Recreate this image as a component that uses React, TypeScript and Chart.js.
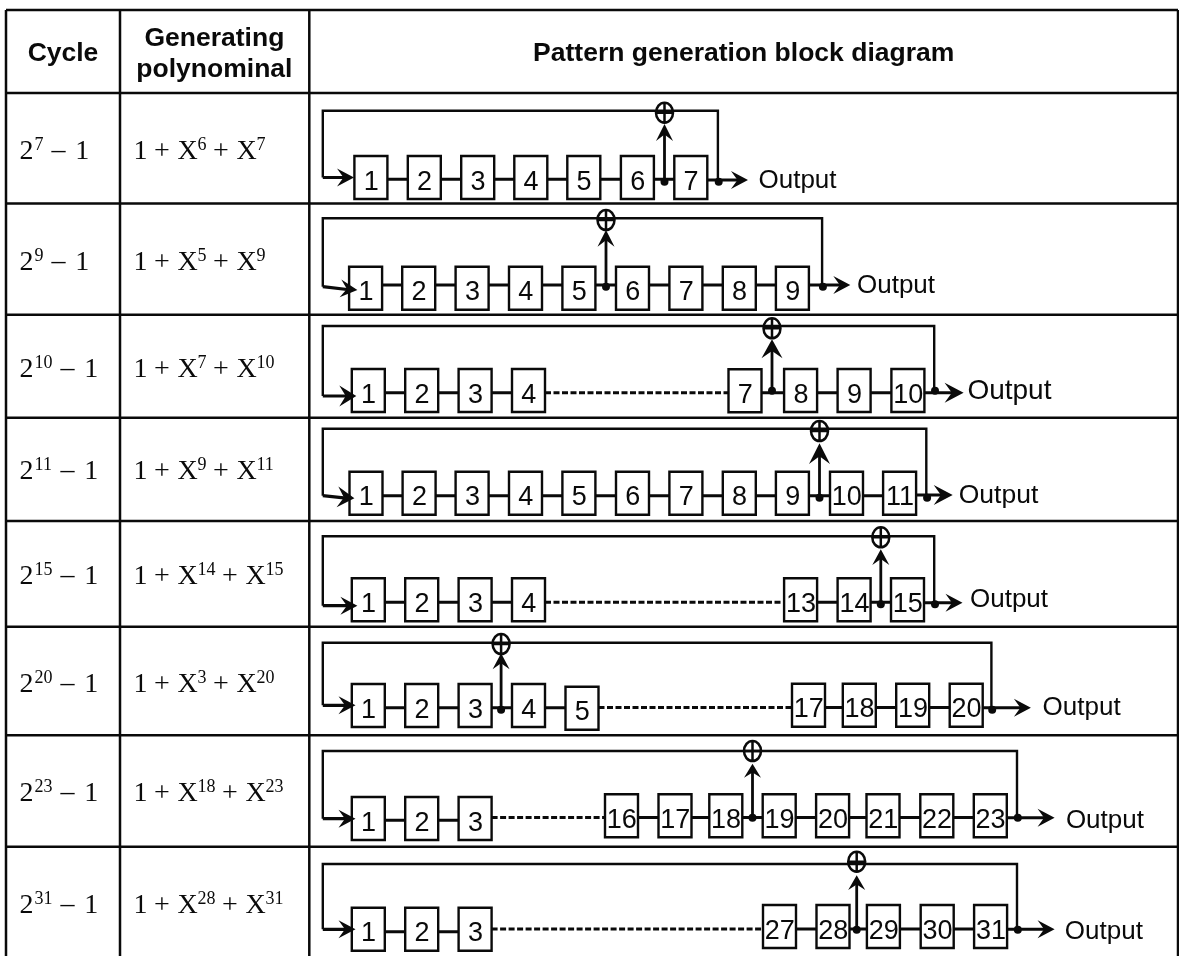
import React, { useEffect, useRef } from "react";
import { Chart, registerables } from "chart.js";

Chart.register(...registerables);

const CANVAS_W = 1179;
const CANVAS_H = 956;

// Table grid
const tableColumns = [6, 120, 309.3, 1178];
const tableRows = [10, 93, 203.5, 314.7, 417.7, 521, 626.7, 735.3, 846.7];

// Header
const headerCycle = "Cycle";
const headerPolyLines = ["Generating", "polynominal"];
const headerDiagram = "Pattern generation block diagram";

// Row text
const cycleExponents = ["7", "9", "10", "11", "15", "20", "23", "31"];
const tapExponents = ["6", "5", "7", "9", "14", "3", "18", "28"];
const mathBaselines = [159.3, 270, 377.3, 479.3, 584, 691.7, 801, 913.3];

// Registers
const registerLabels = [
  ["1", "2", "3", "4", "5", "6", "7"],
  ["1", "2", "3", "4", "5", "6", "7", "8", "9"],
  ["1", "2", "3", "4", "7", "8", "9", "10"],
  ["1", "2", "3", "4", "5", "6", "7", "8", "9", "10", "11"],
  ["1", "2", "3", "4", "13", "14", "15"],
  ["1", "2", "3", "4", "5", "17", "18", "19", "20"],
  ["1", "2", "3", "16", "17", "18", "19", "20", "21", "22", "23"],
  ["1", "2", "3", "27", "28", "29", "30", "31"],
];
const registerLeft = [
  [354.4, 407.8, 461.2, 514.3, 567.3, 620.9, 674.3],
  [349.1, 402.2, 455.6, 509, 562.4, 616, 669.4, 722.8, 775.9],
  [351.8, 405.2, 458.6, 512, 728.5, 784.1, 837.6, 891.4],
  [349.5, 402.6, 455.6, 509, 562.4, 616, 669.4, 722.8, 775.9, 830, 883.1],
  [351.8, 405.2, 458.6, 512, 784.1, 837.6, 891],
  [351.8, 405.2, 458.6, 512, 565.5, 792, 842.8, 896.2, 949.7],
  [351.8, 405.2, 458.6, 605, 658.5, 709.3, 762.7, 816.1, 866.5, 920.3, 973.8],
  [351.8, 405.2, 458.6, 763, 816.5, 866.9, 920.7, 974.1],
];
const registerTop = [
  [156, 156, 156, 156, 156, 156, 156],
  [266.7, 266.7, 266.7, 266.7, 266.7, 266.7, 266.7, 266.7, 266.7],
  [369, 369, 369, 369, 369.3, 369, 369, 369],
  [471.7, 471.7, 471.7, 471.7, 471.7, 471.7, 471.7, 471.7, 471.7, 471.7, 471.7],
  [578.3, 578.3, 578.3, 578.3, 578.3, 578.3, 578.3],
  [684, 684, 684, 684, 686.7, 683.7, 683.7, 683.7, 683.7],
  [797, 797, 797, 794.3, 794.3, 794.3, 794.3, 794.3, 794.3, 794.3, 794.3],
  [907.7, 907.7, 907.7, 905, 905, 905, 905, 905],
];
const chainOffset = [23.3, 18.3, 23.7, 24, 24, 23.7, 23.3, 24];
const REG_W = 33;
const REG_H = 43;

// Feedback network
const feedbackTop = [110.7, 218.3, 326, 428.7, 536.3, 642.7, 751, 864];
const feedbackLeft = 322.8;
const feedbackRight = [717.9, 822.1, 934.2, 926.3, 934.2, 991.4, 1017, 1017];
const tapX = [664.5, 606, 772, 819.5, 880.8, 501.1, 752.5, 856.7];
const tapDotY = [181.7, 286.7, 390.7, 497.7, 604.3, 709.7, 817.7, 929.7];
const xorY = [112.7, 220, 328.3, 431, 537.3, 644, 751, 861.7];
const tapTipY = [124, 230, 339.3, 443.3, 549.3, 653.3, 763.7, 875.3];
const tapHeadLen = [17, 16.7, 19, 20.7, 15.7, 16, 14, 14.7];
const inletY = [177.5, 286.7, 396, 495.7, 605.7, 705.3, 818.7, 929.3];
const inletTipX = [354, 357.4, 356.3, 354.4, 357.4, 355.5, 355.5, 355.5];
const inletTipY = [177.5, 290, 396, 498.3, 605.7, 705.3, 818.7, 929.3];
const outTipX = [748, 850.3, 963.6, 952.7, 962.5, 1030.9, 1054.6, 1054.6];
const outY = [180, 285, 392.7, 495, 602.7, 707.7, 817.7, 929.3];
const outputText = "Output";
const outputX = [758.5, 857, 967.4, 958.7, 970, 1042.6, 1065.9, 1064.8];
const outputBase = [188, 293.3, 399.3, 503.3, 607.3, 715.3, 828.3, 939.3];
const outputFont = [26, 26, 28, 26.5, 26, 26, 26, 26];

type P = { x: number; y: number };
const GAP: P = { x: NaN, y: NaN };

function gridPoints(): P[] {
  const pts: P[] = [];
  const bottom = CANVAS_H;
  for (const y of tableRows) pts.push({ x: tableColumns[0], y }, { x: tableColumns[3], y }, GAP);
  for (const x of tableColumns) pts.push({ x, y: tableRows[0] }, { x, y: bottom }, GAP);
  return pts;
}
function boxPoints(): P[] {
  const pts: P[] = [];
  registerLeft.forEach((row, r) =>
    row.forEach((l, i) => {
      const t = registerTop[r][i];
      pts.push({ x: l, y: t }, { x: l + REG_W, y: t }, { x: l + REG_W, y: t + REG_H }, { x: l, y: t + REG_H }, { x: l, y: t }, { x: l + REG_W, y: t }, GAP);
    })
  );
  return pts;
}
function chainPoints(dashed: boolean): P[] {
  const pts: P[] = [];
  registerLeft.forEach((row, r) => {
    for (let i = 0; i + 1 < row.length; i++) {
      const isGap = Number(registerLabels[r][i + 1]) !== Number(registerLabels[r][i]) + 1;
      if (isGap !== dashed) continue;
      const y = Math.min(registerTop[r][i], registerTop[r][i + 1]) + chainOffset[r];
      pts.push({ x: row[i] + REG_W, y }, { x: row[i + 1], y }, GAP);
    }
  });
  return pts;
}
function feedbackPoints(): P[] {
  const pts: P[] = [];
  feedbackTop.forEach((t, r) => {
    pts.push(
      { x: feedbackRight[r], y: tapDotY[r] },
      { x: feedbackRight[r], y: t },
      { x: feedbackLeft, y: t },
      { x: feedbackLeft, y: inletY[r] },
      GAP
    );
  });
  return pts;
}
function inletPoints(): P[] {
  const pts: P[] = [];
  inletY.forEach((y, r) => {
    pts.push({ x: feedbackLeft, y }, { x: inletTipX[r] - 6, y: inletTipY[r] }, GAP);
  });
  return pts;
}
function tapPoints(): P[] {
  const pts: P[] = [];
  tapX.forEach((x, r) => {
    pts.push({ x, y: tapDotY[r] }, { x, y: tapTipY[r] + 6 }, GAP);
  });
  return pts;
}
function outPoints(): P[] {
  const pts: P[] = [];
  outTipX.forEach((x, r) => {
    const row = registerLeft[r];
    pts.push({ x: row[row.length - 1] + REG_W, y: outY[r] }, { x: x - 6, y: outY[r] }, GAP);
  });
  return pts;
}
function dotPoints(): P[] {
  const pts: P[] = [];
  tapX.forEach((x, r) => {
    pts.push({ x, y: tapDotY[r] }, { x: feedbackRight[r] + 0.8, y: tapDotY[r] });
  });
  return pts;
}

const INK = "#0a0a0a";

const annotationPlugin = {
  id: "diagramAnnotations",
  afterDatasetsDraw(chart: any) {
    const { ctx, scales } = chart;
    const X = (v: number) => scales.x.getPixelForValue(v);
    const Y = (v: number) => scales.y.getPixelForValue(v);
    ctx.save();
    ctx.fillStyle = INK;
    ctx.strokeStyle = INK;

    const head = (tx: number, ty: number, dx: number, dy: number, len: number, half: number) => {
      const nx = -dy;
      const ny = dx;
      ctx.beginPath();
      ctx.moveTo(X(tx), Y(ty));
      ctx.lineTo(X(tx - dx * len + nx * half), Y(ty - dy * len + ny * half));
      ctx.lineTo(X(tx - dx * len * 0.62), Y(ty - dy * len * 0.62));
      ctx.lineTo(X(tx - dx * len - nx * half), Y(ty - dy * len - ny * half));
      ctx.closePath();
      ctx.fill();
    };

    tapX.forEach((x, r) => {
      head(x, tapTipY[r], 0, -1, tapHeadLen[r], r === 2 || r === 3 ? 10.5 : 8.5);
      head(outTipX[r], outY[r], 1, 0, r === 2 || r === 3 ? 19 : 17, r === 2 || r === 3 ? 10 : 9);
      const dy = inletTipY[r] - inletY[r];
      const dx = inletTipX[r] - feedbackLeft;
      const m = Math.hypot(dx, dy);
      head(inletTipX[r], inletTipY[r], dx / m, dy / m, 17, r === 2 || r === 3 ? 10.5 : 9);

      // XOR symbol
      ctx.lineWidth = 2.5;
      ctx.beginPath();
      ctx.ellipse(X(x), Y(xorY[r]), 8.5, 10, 0, 0, Math.PI * 2);
      ctx.moveTo(X(x), Y(xorY[r] - 10));
      ctx.lineTo(X(x), Y(xorY[r] + 10));
      ctx.moveTo(X(x - 8.5), Y(xorY[r]));
      ctx.lineTo(X(x + 8.5), Y(xorY[r]));
      ctx.stroke();
    });

    ctx.textBaseline = "alphabetic";

    // Header
    ctx.textAlign = "center";
    ctx.font = 'bold 26.5px "Liberation Sans"';
    ctx.fillText(headerCycle, X(63), Y(61));
    ctx.fillText(headerPolyLines[0], X(214.4), Y(45.5));
    ctx.fillText(headerPolyLines[1], X(214.4), Y(77));
    ctx.fillText(headerDiagram, X(743.7), Y(61));

    // Register numbers
    ctx.font = '27px "Liberation Sans"';
    registerLabels.forEach((row, r) =>
      row.forEach((label, i) => {
        ctx.fillText(label, X(registerLeft[r][i] + REG_W / 2 + 0.3), Y(registerTop[r][i] + REG_H - 9.5));
      })
    );

    // Output labels
    ctx.textAlign = "left";
    outputBase.forEach((b, r) => {
      ctx.font = `${outputFont[r]}px "Liberation Sans"`;
      ctx.fillText(outputText, X(outputX[r]), Y(b));
    });

    // Math columns
    const serif = '28px "Liberation Serif"';
    const sup = '18px "Liberation Serif"';
    mathBaselines.forEach((b, r) => {
      // 2^n - 1
      ctx.font = serif;
      ctx.fillText("2", X(19.6), Y(b));
      ctx.font = sup;
      ctx.fillText(cycleExponents[r], X(34.6), Y(b - 9));
      const dash = 34.6 + cycleExponents[r].length * 9 + 8;
      ctx.font = serif;
      ctx.fillText("\u2013", X(dash), Y(b - 1));
      ctx.fillText("1", X(dash + 23.7), Y(b));

      // 1 + X^a + X^b
      ctx.fillText("1", X(133.6), Y(b));
      ctx.fillText("+", X(154), Y(b));
      ctx.fillText("X", X(177.6), Y(b));
      ctx.font = sup;
      ctx.fillText(tapExponents[r], X(197.5), Y(b - 9));
      const plus2 = 197.5 + tapExponents[r].length * 9 + 6.5;
      ctx.font = serif;
      ctx.fillText("+", X(plus2), Y(b));
      ctx.fillText("X", X(plus2 + 23.6), Y(b));
      ctx.font = sup;
      ctx.fillText(cycleExponents[r], X(plus2 + 43.5), Y(b - 9));
    });
    ctx.restore();
  },
};

export default function App() {
  const ref = useRef<HTMLCanvasElement>(null);
  useEffect(() => {
    if (!ref.current) return;
    const line = (data: P[], width: number, dash: number[] = []) => ({
      data,
      showLine: true,
      borderColor: INK,
      backgroundColor: INK,
      borderWidth: width,
      borderDash: dash,
      pointRadius: 0,
      tension: 0,
      borderJoinStyle: "miter" as const,
      clip: false as any,
    });
    const chart = new Chart(ref.current, {
      type: "scatter",
      data: {
        datasets: [
          line(gridPoints(), 2.5),
          line(boxPoints(), 2.4),
          line(chainPoints(false), 3),
          line(chainPoints(true), 3, [6, 2.5]),
          line(feedbackPoints(), 2.4),
          line(inletPoints(), 3.2),
          line(tapPoints(), 2.8),
          line(outPoints(), 3),
          {
            data: dotPoints(),
            showLine: false,
            pointRadius: 4,
            pointBackgroundColor: INK,
            pointBorderWidth: 0,
          },
        ] as any,
      },
      options: {
        responsive: false,
        animation: false,
        devicePixelRatio: 1,
        layout: { padding: 0, autoPadding: false },
        plugins: { legend: { display: false }, tooltip: { enabled: false } },
        scales: {
          x: { type: "linear", display: false, min: 0, max: CANVAS_W },
          y: { type: "linear", display: false, min: 0, max: CANVAS_H, reverse: true },
        },
      },
      plugins: [annotationPlugin],
    });
    return () => chart.destroy();
  }, []);
  return (
    <canvas
      ref={ref}
      width={CANVAS_W}
      height={CANVAS_H}
      style={{ position: "absolute", left: 0, top: 0, display: "block", background: "#ffffff" }}
    />
  );
}
